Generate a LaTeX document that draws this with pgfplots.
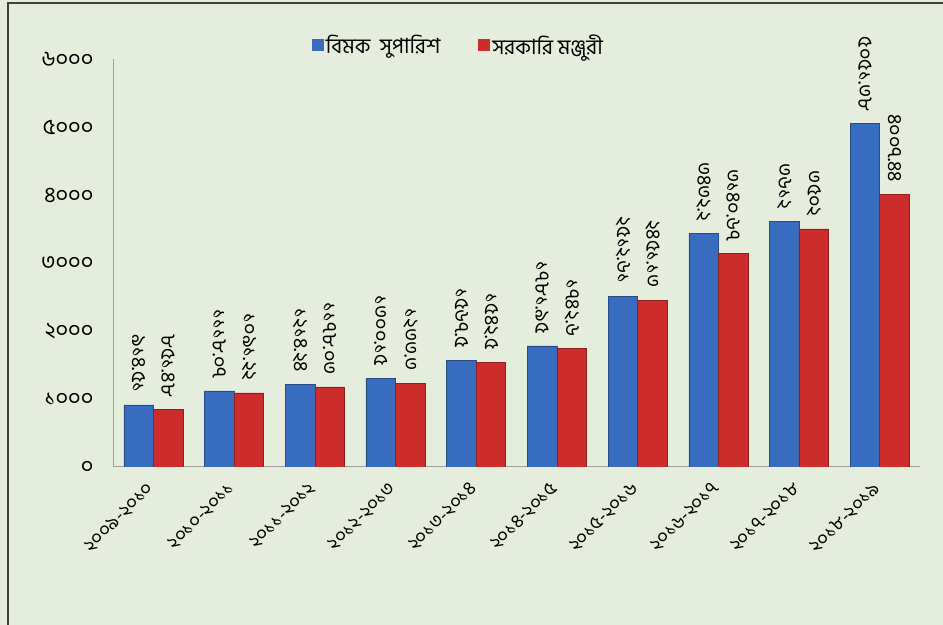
\documentclass[border=0pt]{standalone}
\usepackage{fontspec}
\setmainfont{Hind Siliguri}[Script=Bengali]
\usepackage{pgfplots}
\pgfplotsset{compat=1.18}

\definecolor{bgc}{RGB}{229,237,220}
\definecolor{barblue}{RGB}{56,108,190}
\definecolor{barred}{RGB}{204,44,44}

\pgfplotsset{
  sqlegend/.style={legend image code/.code={%
    \path[##1, draw=none] (0bp,-6bp) rectangle (12bp,6bp);}},
}

\begin{document}
\begin{tikzpicture}
\useasboundingbox (0,0) rectangle (943bp,625bp);
\fill[bgc] (0,0) rectangle (943bp,625bp);
\draw[line width=1.6bp, black!75] (8bp,-5bp) -- (8bp,622bp) -- (950bp,622bp);
\begin{axis}[
    at={(113bp,158bp)}, anchor=south west,
    scale only axis, width=807bp, height=408bp,
    xmin=-0.5, xmax=9.5, ymin=0, ymax=6000,
    axis lines=left,
    axis line style={-, draw=gray!75, line width=1bp},
    ybar=0pt, bar width=29.5bp,
    xtick={0,...,9},
    xticklabels={২০০৯-২০১০, ২০১০-২০১১, ২০১১-২০১২, ২০১২-২০১৩, ২০১৩-২০১৪,
                 ২০১৪-২০১৫, ২০১৫-২০১৬, ২০১৬-২০১৭, ২০১৭-২০১৮, ২০১৮-২০১৯},
    xtick style={draw=none},
    xticklabel style={yshift=-12bp, rotate=45, anchor=east, font=\fontsize{19}{21}\selectfont},
    ytick={0,1000,...,6000},
    yticklabels={০, ১০০০, ২০০০, ৩০০০, ৪০০০, ৫০০০, ৬০০০},
    ytick style={draw=none},
    yticklabel style={xshift=-14bp, font=\fontsize{22}{24}\selectfont},
    nodes near coords,
    point meta=explicit symbolic,
    every node near coord/.append style={rotate=-90, anchor=east, inner xsep=12bp,
        font=\fontsize{20}{22}\selectfont},
    legend style={at={(0.428,1.034)}, anchor=center, draw=none, fill=none,
        legend columns=2, font=\fontsize{21}{23}\selectfont,
        /tikz/every even column/.append style={column sep=36bp}},
]
\addplot[sqlegend, draw=barblue!70!black, line width=0.4bp, fill=barblue]
  coordinates {(0,914.51) [৯১৪.৫১] (1,1118.07) [১১১৮.০৭] (2,1214.24) [১২১৪.২৪]
               (3,1300.15) [১৩০০.১৫] (4,1567.5) [১৫৬৭.৫] (5,1781.95) [১৭৮১.৯৫]
               (6,2512.61) [২৫১২.৬১] (7,3432.2) [৩৪৩২.২] (8,3612) [৩৬১২]
               (9,5051.38) [৫০৫১.৩৮]};
\addplot[sqlegend, draw=barred!70!black, line width=0.4bp, fill=barred]
  coordinates {(0,851.48) [৮৫১.৪৮] (1,1091.22) [১০৯১.২২] (2,1178.03) [১১৭৮.০৩]
               (3,1233.3) [১২৩৩.৩] (4,1542.5) [১৫৪২.৫] (5,1742.6) [১৭৪২.৬]
               (6,2451.13) [২৪৫১.১৩] (7,3140.67) [৩১৪০.৬৭] (8,3502) [৩৫০২]
               (9,4007.44) [৪০০৭.৪৪]};
\legend{বিমক\ \ সুপারিশ, সরকারি মঞ্জুরী}
\end{axis}
\end{tikzpicture}
\end{document}
